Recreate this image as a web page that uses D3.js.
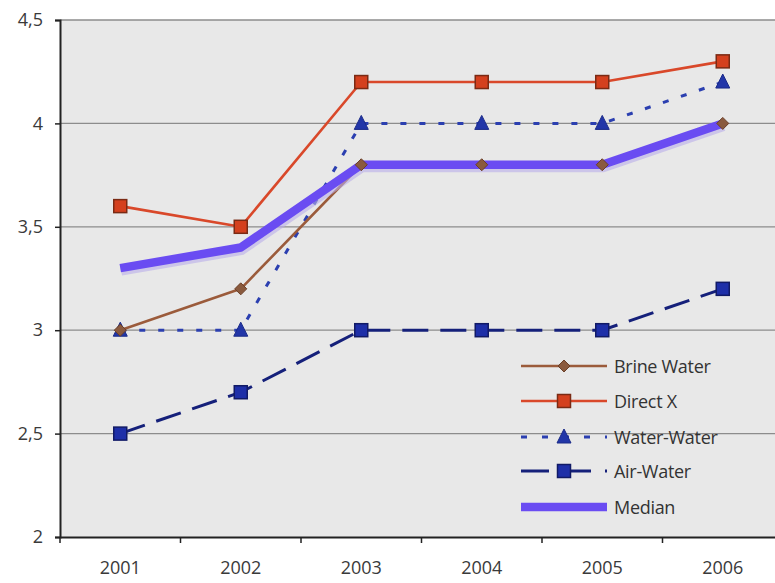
<!DOCTYPE html>
<html>
<head>
<meta charset="utf-8">
<script src="https://cdn.jsdelivr.net/npm/d3@7/dist/d3.min.js"></script>
<style>
  html, body { margin: 0; padding: 0; background: #fff; }
  svg { display: block; font-family: "Open Sans", "DejaVu Sans", sans-serif; }
</style>
</head>
<body>
<svg id="chart" width="775" height="583"></svg>
<script>
// Yearly values per heat pump type
const years = ["2001", "2002", "2003", "2004", "2005", "2006"];
const brineWater = [3.0, 3.2, 3.8, 3.8, 3.8, 4.0];
const directX = [3.6, 3.5, 4.2, 4.2, 4.2, 4.3];
const waterWater = [3.0, 3.0, 4.0, 4.0, 4.0, 4.2];
const airWater = [2.5, 2.7, 3.0, 3.0, 3.0, 3.2];
const median = [3.3, 3.4, 3.8, 3.8, 3.8, 4.0];
const yTicks = [2, 2.5, 3, 3.5, 4, 4.5];
const yTickLabels = ["2", "2,5", "3", "3,5", "4", "4,5"];

const series = [
  { name: "Brine Water", values: brineWater, color: "#9b5b3b", width: 2.6, dash: null, marker: "diamond", fill: "#8a5a3e", stroke: "#6b3f28" },
  { name: "Direct X", values: directX, color: "#d9482a", width: 2.6, dash: null, marker: "square", fill: "#d4401e", stroke: "#7a2a14" },
  { name: "Water-Water", values: waterWater, color: "#2b3fb0", width: 3, dash: "6,13", marker: "triangle", fill: "#2236a8", stroke: "#1a2a88" },
  { name: "Air-Water", values: airWater, color: "#15207a", width: 3, dash: "26,12", marker: "square", fill: "#1e2fa8", stroke: "#111a66" },
  { name: "Median", values: median, color: "#6a4cf2", width: 8.5, dash: null, marker: null }
];

const svg = d3.select("#chart");
const plotLeft = 60, plotRight = 783, plotTop = 20, plotBottom = 537;

const x = d3.scaleBand().domain(years).range([plotLeft, plotRight]);
const y = d3.scaleLinear().domain([2, 4.5]).range([plotBottom, plotTop]);

// plot background
svg.append("rect")
  .attr("x", plotLeft).attr("y", plotTop)
  .attr("width", plotRight - plotLeft).attr("height", plotBottom - plotTop)
  .attr("fill", "#e8e8e8");

// horizontal gridlines
svg.append("g").selectAll("line")
  .data(yTicks.filter(v => v > 2))
  .join("line")
  .attr("x1", plotLeft).attr("x2", plotRight)
  .attr("y1", d => y(d)).attr("y2", d => y(d))
  .attr("stroke", "#8c8c8c").attr("stroke-width", 1.3);

// axes
const yAxis = d3.axisLeft(y).tickValues(yTicks)
  .tickFormat((d, i) => yTickLabels[i]).tickSize(5).tickPadding(12);
const gy = svg.append("g").attr("transform", `translate(${plotLeft},0)`).call(yAxis);
gy.select(".domain").attr("stroke", "#222").attr("stroke-width", 2);
gy.selectAll(".tick line").attr("stroke", "#222").attr("stroke-width", 1.5);
gy.selectAll(".tick text").attr("font-size", 18).attr("fill", "#3a3a3a")
  .attr("font-family", "'Open Sans', sans-serif");

const xAxis = d3.axisBottom(x).tickSize(0).tickPadding(24);
const gx = svg.append("g").attr("transform", `translate(0,${plotBottom})`).call(xAxis);
gx.select(".domain").attr("stroke", "#222").attr("stroke-width", 2);
gx.selectAll(".tick text").attr("font-size", 18).attr("fill", "#3a3a3a")
  .attr("font-family", "'Open Sans', sans-serif");

// category boundary ticks
const boundaries = years.map(d => x(d)).concat([x(years[years.length - 1]) + x.bandwidth()]);
svg.append("g").selectAll("line")
  .data(boundaries)
  .join("line")
  .attr("x1", d => d).attr("x2", d => d)
  .attr("y1", plotBottom).attr("y2", plotBottom + 6)
  .attr("stroke", "#222").attr("stroke-width", 1.5);

const cx = d => x(d) + x.bandwidth() / 2;
const lineGen = vals => d3.line().x((v, i) => cx(years[i])).y(v => y(v))(vals);

function drawMarker(g, type, px, py, s) {
  if (type === "diamond") {
    g.append("path")
      .attr("d", "M0,-6L6,0L0,6L-6,0Z")
      .attr("transform", `translate(${px},${py})`)
      .attr("fill", s.fill).attr("stroke", s.stroke).attr("stroke-width", 1);
  } else if (type === "square") {
    g.append("rect")
      .attr("x", px - 6.5).attr("y", py - 6.5).attr("width", 13).attr("height", 13)
      .attr("fill", s.fill).attr("stroke", s.stroke).attr("stroke-width", 1.5);
  } else if (type === "triangle") {
    g.append("path")
      .attr("d", "M0,-8L7,6L-7,6Z")
      .attr("transform", `translate(${px},${py})`)
      .attr("fill", s.fill).attr("stroke", s.stroke).attr("stroke-width", 1);
  }
}

const byName = name => series.find(d => d.name === name);

// lines first (median above the brine line), then markers on top
const lineOrder = ["Air-Water", "Water-Water", "Brine Water", "Median", "Direct X"];
lineOrder.forEach(name => {
  const s = byName(name);
  const g = svg.append("g");
  if (name === "Median") {
    g.append("path").attr("d", lineGen(s.values))
      .attr("transform", "translate(1,3)")
      .attr("fill", "none").attr("stroke", "#b9aeea").attr("stroke-width", 9)
      .attr("opacity", 0.6);
  }
  g.append("path").attr("d", lineGen(s.values))
    .attr("fill", "none").attr("stroke", s.color).attr("stroke-width", s.width)
    .attr("stroke-dasharray", s.dash).attr("stroke-linejoin", "round");
});
["Air-Water", "Water-Water", "Brine Water", "Direct X"].forEach(name => {
  const s = byName(name);
  const g = svg.append("g");
  s.values.forEach((v, i) => drawMarker(g, s.marker, cx(years[i]), y(v), s));
});

// legend
const legendY = [366, 401, 437, 471, 507];
const lg = svg.append("g");
series.forEach((s, i) => {
  const ly = legendY[i];
  lg.append("line")
    .attr("x1", 521).attr("x2", 607).attr("y1", ly).attr("y2", ly)
    .attr("stroke", s.color).attr("stroke-width", s.width)
    .attr("stroke-dasharray", s.name === "Water-Water" ? "6,15" : (s.name === "Air-Water" ? "28,14" : null));
  if (s.marker) drawMarker(lg, s.marker, 564, ly, s);
  lg.append("text")
    .attr("x", 614).attr("y", ly + 6.5)
    .attr("font-size", 18).attr("fill", "#333")
    .attr("font-family", "'Open Sans', sans-serif")
    .attr("letter-spacing", "-0.3")
    .text(s.name);
});
</script>
</body>
</html>
